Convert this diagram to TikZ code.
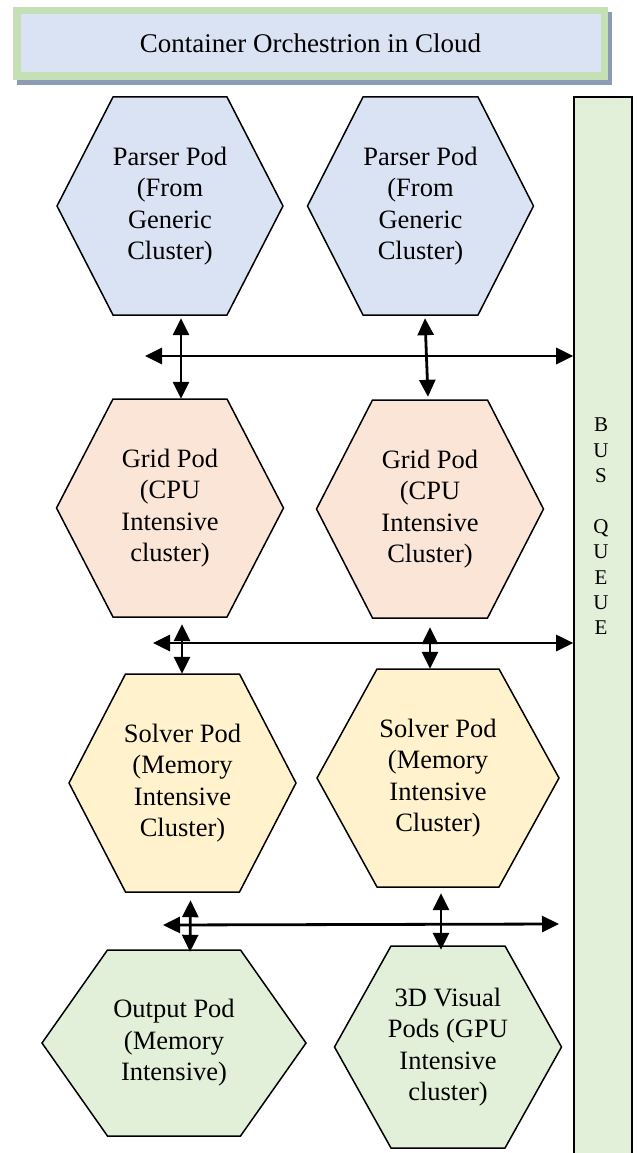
\documentclass[tikz,border=0pt]{standalone}
\usepackage{fontspec}
\setmainfont{Liberation Serif}
\usetikzlibrary{arrows.meta,calc}
\definecolor{pblue}{HTML}{DAE3F3}
\definecolor{ppeach}{HTML}{FBE5D6}
\definecolor{pyellow}{HTML}{FFF2CC}
\definecolor{pgreen}{HTML}{E2F0D9}
\definecolor{tgreen}{HTML}{C5E0B4}
\definecolor{tshadow}{HTML}{8C9CB4}
% name, cx, cy, half width, half top edge, half height, fill, text
\newcommand{\hexpod}[8]{%
  \draw[hexline, fill=#7] (#2-#4,#3) -- (#2-#5,#3-#6) -- (#2+#5,#3-#6) -- (#2+#4,#3) -- (#2+#5,#3+#6) -- (#2-#5,#3+#6) -- cycle;
  \node[podtext, minimum height={2*#6pt}] (#1) at (#2,#3) {#8};}
\begin{document}
\begin{tikzpicture}[x=1pt,y=-1pt,
  hexline/.style={draw=black,line width=1.5pt,line join=miter},
  podtext/.style={align=center,font=\fontsize{26.5}{31.5}\selectfont,inner sep=0pt},
  dbl/.style={arrows={Triangle[length=17pt,width=16pt]-Triangle[length=17pt,width=16pt]}, line width=2.8pt},
  busbox/.style={draw=black,line width=1.6pt,fill=pgreen,inner sep=0pt}]
\clip (0,0) rectangle (637,1153);
\fill[white] (0,0) rectangle (637,1153);
% title
\fill[tshadow] (17,12) rectangle (612,85);
\node[fill=pblue, draw=tgreen, line width=7.5pt, minimum width=587.5pt, minimum height=65.5pt, inner sep=0pt,
  font=\fontsize{27}{32}\selectfont] (title) at (310.5,43.5) {Container Orchestrion in Cloud};
% bus queue
\node[busbox, minimum width=58pt, minimum height=1063pt] (bus) at (603,628.5) {};
\node[font=\fontsize{21}{25.4}\selectfont, align=center, inner sep=0pt] (bustext) at (601,526.5) {B\\U\\S\\\mbox{}\\Q\\U\\E\\U\\E};
% pods
\hexpod{pl}{170}{206}{113}{57}{109}{pblue}{Parser Pod\\(From\\Generic\\Cluster)}
\hexpod{pr}{420.5}{206}{113}{57.5}{109}{pblue}{Parser Pod\\(From\\Generic\\Cluster)}
\hexpod{gl}{170}{508}{113.5}{57}{109}{ppeach}{Grid Pod\\(CPU\\Intensive\\cluster)}
\hexpod{gr}{430}{509}{113.5}{57.5}{109}{ppeach}{Grid Pod\\(CPU\\Intensive\\Cluster)}
\hexpod{sl}{182.5}{783}{113.5}{57}{109}{pyellow}{Solver Pod\\(Memory\\Intensive\\Cluster)}
\hexpod{sr}{438}{778}{121}{61}{109}{pyellow}{Solver Pod\\(Memory\\Intensive\\Cluster)}
\hexpod{ol}{174}{1043}{132}{66.5}{93}{pgreen}{Output Pod\\(Memory\\Intensive)}
\hexpod{vr}{448}{1047}{113.5}{57}{101}{pgreen}{3D Visual\\Pods (GPU\\Intensive\\cluster)}
% horizontal bus arrows
\coordinate (h1l) at (145,356);
\coordinate (h2l) at (153,643);
\coordinate (h3l) at (163,925);
\coordinate (h3r) at (559,924);
\draw[dbl] (h1l) -- (h1l -| bus.west);
\draw[dbl] (h2l) -- (h2l -| bus.west);
\draw[dbl] (h3l) -- (h3r);
% vertical arrows
\draw[dbl] ([shift={(11,3)}]pl.south) -- ([shift={(11,0)}]gl.north);
\draw[dbl] ([shift={(4.5,3)}]pr.south) -- ([shift={(-2,-3)}]gr.north);
\draw[dbl] ([shift={(12,7)}]gl.south) -- ([shift={(-0.5,0)}]sl.north);
\draw[dbl] ([shift={(0,9)}]gr.south) -- ([shift={(-8,0)}]sr.north);
\draw[dbl] ([shift={(8,8)}]sl.south) -- ([shift={(16,2)}]ol.north);
\draw[dbl] ([shift={(3,6)}]sr.south) -- ([shift={(-7,4)}]vr.north);
\end{tikzpicture}
\end{document}
